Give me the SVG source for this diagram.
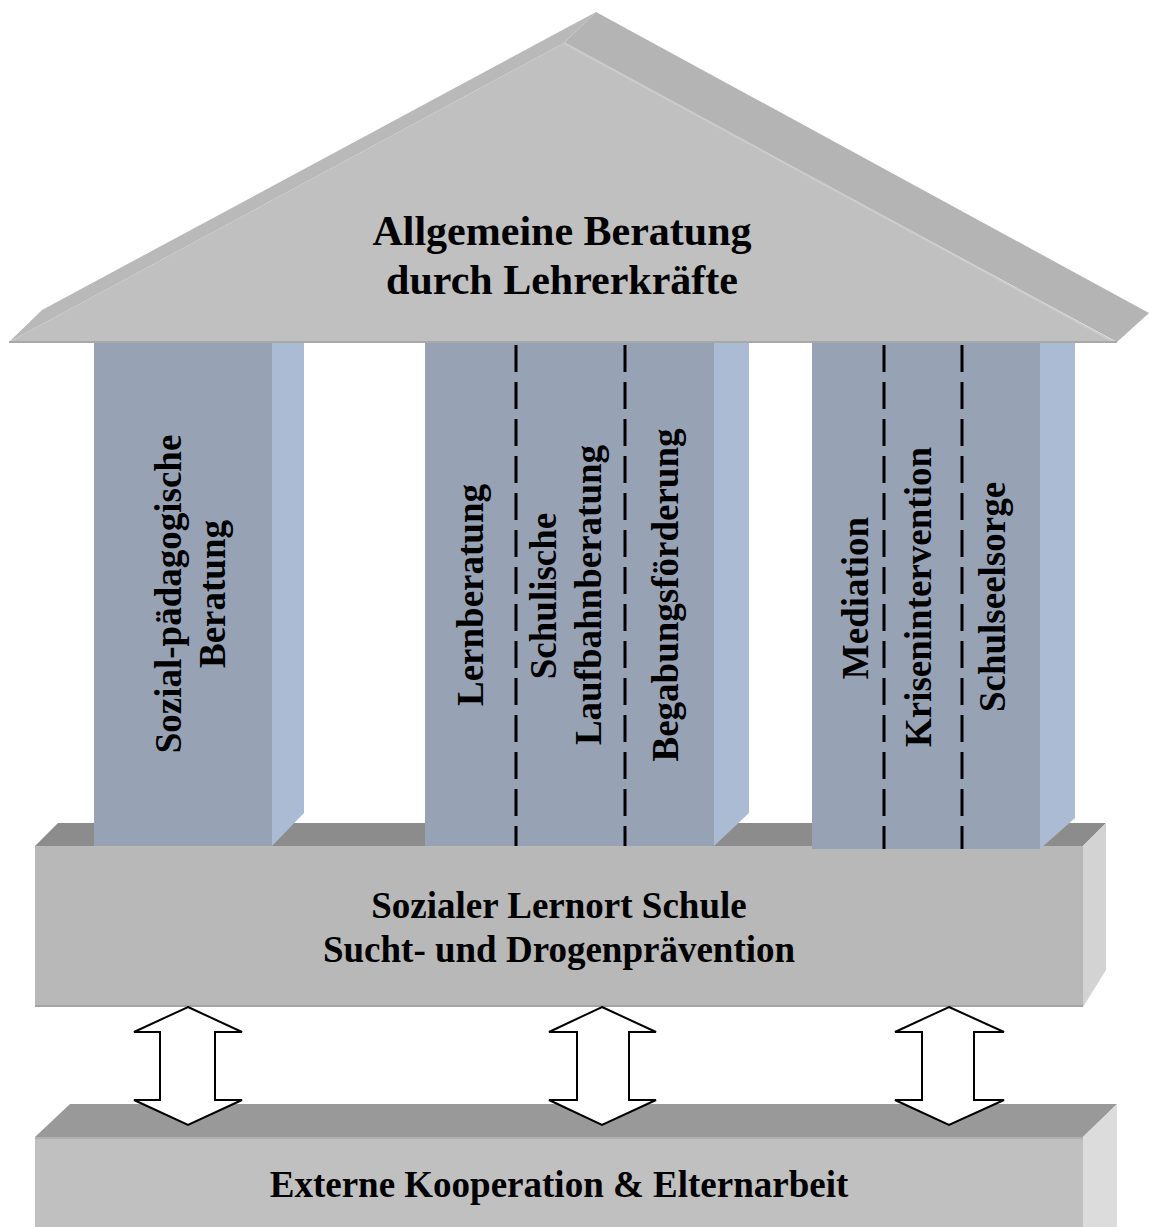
<svg xmlns="http://www.w3.org/2000/svg" width="1149" height="1227" viewBox="0 0 1149 1227">
<style>
.t{font-family:"Liberation Serif","Times New Roman",serif;font-weight:bold;fill:#000;text-anchor:middle}
.big{font-size:42px}
.mid{font-size:37px}
.col{font-size:37px;dominant-baseline:central}
.front{fill:#97a3b5}
.side{fill:#abbbd3}
.dash{stroke:#000;stroke-width:3;stroke-dasharray:27 10;fill:none}
.arrow{fill:#fff;stroke:#000;stroke-width:2;stroke-linejoin:miter}
</style>
<rect width="1149" height="1227" fill="#fff"/>

<g id="roof">
  <polygon points="596,12 1149,313 1117,342 564,43" fill="#b4b4b4"/>
  <polygon points="596,12 564,43 9,342 42,310" fill="#b9b9b9"/>
  <polygon points="564,43 1114,342 9,342" fill="#c0c0c0"/>
  <line x1="564" y1="43" x2="1114" y2="342" stroke="#cbcbcb" stroke-width="2"/>
  <line x1="9" y1="342" x2="1117" y2="342" stroke="#a8a8a8" stroke-width="2"/>
  <text class="t big" x="562" y="245">Allgemeine Beratung</text>
  <text class="t big" x="562" y="294">durch Lehrerkräfte</text>
</g>

<g id="base">
  <polygon points="35,846 58,823 1106,823 1083,846" fill="#8c8c8c"/>
  <polygon points="1083,846 1106,823 1106,970 1083,1007" fill="#d3d3d3"/>
  <rect x="35" y="846" width="1048" height="161" fill="#b8b8b8"/>
  <line x1="35" y1="1006" x2="1083" y2="1006" stroke="#a4a4a4" stroke-width="2"/>
  <text class="t mid" x="559" y="918">Sozialer Lernort Schule</text>
  <text class="t mid" x="559" y="962">Sucht- und Drogenprävention</text>
</g>

<g id="column-left">
  <polygon class="side" points="272,343 304,343 304,813 272,846"/>
  <rect class="front" x="94" y="343" width="178" height="503"/>
  <text class="t col" transform="translate(168,594) rotate(-90)">Sozial-pädagogische</text>
  <text class="t col" transform="translate(212,594) rotate(-90)">Beratung</text>
</g>

<g id="column-middle">
  <polygon class="side" points="714,343 749,343 749,813 714,846"/>
  <rect class="front" x="425" y="343" width="289" height="503"/>
  <line class="dash" x1="516" y1="345" x2="516" y2="846"/>
  <line class="dash" x1="625" y1="345" x2="625" y2="846"/>
  <text class="t col" transform="translate(470,595) rotate(-90)">Lernberatung</text>
  <text class="t col" transform="translate(543,596) rotate(-90)">Schulische</text>
  <text class="t col" transform="translate(588,595) rotate(-90)">Laufbahnberatung</text>
  <text class="t col" transform="translate(665,595) rotate(-90)">Begabungsförderung</text>
</g>

<g id="column-right">
  <polygon class="side" points="1040,343 1075,343 1075,818 1040,849"/>
  <rect class="front" x="812" y="343" width="228" height="506"/>
  <line class="dash" x1="884" y1="345" x2="884" y2="849"/>
  <line class="dash" x1="962" y1="345" x2="962" y2="849"/>
  <text class="t col" transform="translate(855,598) rotate(-90)">Mediation</text>
  <text class="t col" transform="translate(918,597) rotate(-90)">Krisenintervention</text>
  <text class="t col" transform="translate(992,597) rotate(-90)">Schulseelsorge</text>
</g>

<g id="external">
  <polygon points="35,1137 70,1104 1117,1104 1083,1137" fill="#999999"/>
  <polygon points="1083,1137 1117,1104 1117,1227 1083,1227" fill="#dcdcdc"/>
  <rect x="35" y="1137" width="1048" height="90" fill="#c0c0c0"/>
  <line x1="35" y1="1138" x2="1083" y2="1138" stroke="#b0b0b0" stroke-width="2"/>
  <text class="t mid" x="559" y="1197">Externe Kooperation &amp; Elternarbeit</text>
</g>

<g id="connectors">
  <polygon class="arrow" points="188,1007 242,1032 215,1032 215,1100 242,1100 188,1125 134,1100 160,1100 160,1032 134,1032"/>
  <polygon class="arrow" points="602,1007 656,1032 629,1032 629,1100 656,1100 602,1125 549,1100 577,1100 577,1032 549,1032"/>
  <polygon class="arrow" points="949,1007 1004,1032 974,1032 974,1100 1004,1100 949,1125 895,1100 922,1100 922,1032 895,1032"/>
</g>
</svg>
